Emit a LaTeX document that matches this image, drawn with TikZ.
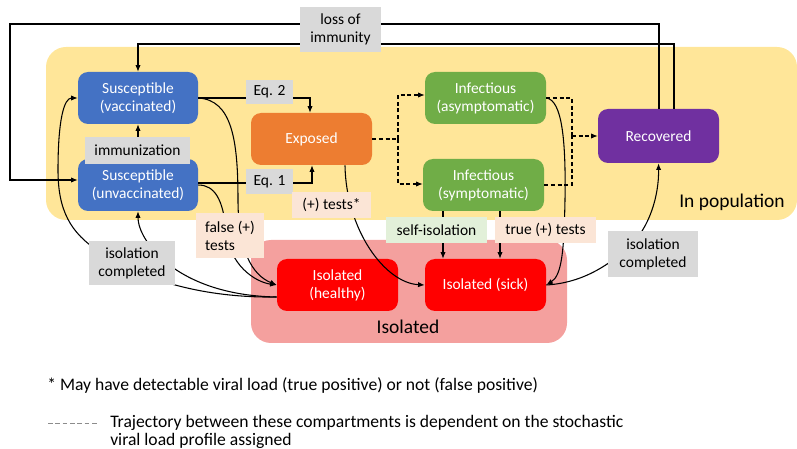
\documentclass[tikz,border=0pt]{standalone}
\usepackage{fontspec}
\setmainfont{Carlito}
\usetikzlibrary{arrows.meta}
\definecolor{popyellow}{HTML}{FFE699}
\definecolor{isopink}{HTML}{F4A09E}
\definecolor{sblue}{HTML}{4472C4}
\definecolor{eorange}{HTML}{ED7D31}
\definecolor{igreen}{HTML}{70AD47}
\definecolor{rpurple}{HTML}{7030A0}
\definecolor{ired}{HTML}{FF0000}
\definecolor{lgrey}{HTML}{D9D9D9}
\definecolor{lpeach}{HTML}{FBE5D6}
\definecolor{lgreen}{HTML}{E2F0D9}
\definecolor{legendgrey}{HTML}{8C8C8C}
\begin{document}
\begin{tikzpicture}[x=0.75pt,y=-0.75pt,
 comp/.style={rounded corners=7.5pt, text=white, align=center, inner sep=0pt,
   font=\fontsize{11.6}{13.5}\selectfont, minimum width=90.75pt, minimum height=39pt},
 lab/.style={inner sep=0pt, align=center, font=\fontsize{11.6}{13.5}\selectfont},
 conn/.style={line width=0.8pt, black, -{Latex[length=5pt,width=4pt]}},
 plain/.style={line width=0.8pt, black},
 dsh/.style={dash pattern=on 3pt off 2pt},
 region/.style={rounded corners=15pt, inner sep=0pt},
 reglab/.style={inner sep=0pt, font=\fontsize{14.6}{17}\selectfont},
 foot/.style={inner sep=0pt, anchor=base west, font=\fontsize{13.2}{14}\selectfont},
]
\useasboundingbox (0,0) rectangle (797,449);

% regions
\node[region, fill=popyellow, minimum width=751*0.75pt, minimum height=173*0.75pt] (pop) at (421.5,133.5) {};
\node[region, fill=isopink, minimum width=316*0.75pt, minimum height=103*0.75pt] (isor) at (409,291.5) {};
\node[reglab] (poplab) at (732,202) {In population};
\node[reglab] (isolab) at (408,327) {Isolated};

% compartments
\node[comp, fill=sblue, minimum width=90pt] (sv) at (138,98) {Susceptible\\(vaccinated)};
\node[comp, fill=sblue, minimum width=90pt] (su) at (138,185) {Susceptible\\(unvaccinated)};
\node[comp, fill=eorange] (exp) at (311.5,139) {Exposed};
\node[comp, fill=igreen] (ia) at (485.5,98) {Infectious\\(asymptomatic)};
\node[comp, fill=igreen] (is) at (483.5,185) {Infectious\\(symptomatic)};
\node[comp, fill=rpurple, minimum height=40.5pt] (rec) at (658.5,136) {Recovered};
\node[comp, fill=ired] (ih) at (337.5,285) {Isolated\\(healthy)};
\node[comp, fill=ired] (isk) at (485.5,285) {Isolated (sick)};

% loss of immunity
\draw[conn] (rec.north -| 659,0) |- (10,24) |- (su.west |- 0,180);
\draw[conn] (rec.north -| 674,0) |- (138,44) -- (sv.north);
% immunization
\draw[conn] (su.north) -- (sv.south);
% Eq 2 / Eq 1
\draw[conn] (sv.east) -| (exp.north -| 310,0);
\draw[conn] (su.east |- 0,183) -| (exp.south -| 312,0);
% dashed trajectories
\draw[plain, dsh] (exp.east) -- (398,139);
\draw[conn, dsh] (398,139) |- (ia.west |- 0,95);
\draw[conn, dsh] (398,139) |- (is.west |- 0,184);
\draw[plain, dsh] (ia.east) -| (572,136);
\draw[plain, dsh] (is.east) -| (572,136);
\draw[conn, dsh] (572,136) -- (rec.west);
% symptomatic to isolated sick
\draw[conn] (is.south -| 443,0) -- (isk.north -| 443,0);
\draw[conn] (is.south -| 500,0) -- (isk.north -| 500,0);
% asymptomatic to isolated sick
\draw[conn] (ia.east) .. controls (562,100) and (566,140) .. (565,200)
  .. controls (564,250) and (562,275) .. (isk.east);
% isolated sick to recovered
\draw[conn] (isk.east) .. controls (580,283) and (605,268) .. (628,248)
  .. controls (650,228) and (659,195) .. (rec.south);
% exposed to isolated sick
\draw[conn] (exp.south -| 345,0) .. controls (346,230) and (385,283) .. (isk.west);
% susceptible to isolated healthy
\draw[conn] (sv.east) .. controls (232,100) and (238,140) .. (238,200)
  .. controls (238,250) and (252,275) .. (ih.west);
\draw[conn] (su.east) .. controls (215,185) and (223,200) .. (226,230)
  .. controls (229,265) and (255,282) .. (ih.west);
% isolation completed (left)
\draw[conn] (ih.west |- 0,297) .. controls (220,296) and (182,278) .. (160,257)
  .. controls (145,242) and (138,228) .. (su.south);
\draw[conn] (ih.west |- 0,297) .. controls (215,298) and (150,285) .. (100,252)
  .. controls (70,233) and (58,210) .. (58,170)
  .. controls (58,120) and (64,98) .. (sv.west);

% labels
\node[lab, fill=lgrey, minimum width=60.75pt, minimum height=33.75pt] (loss) at (340.5,29.5) {loss of\\immunity};
\node[lab, fill=lgrey, minimum width=78.75pt, minimum height=20.25pt] (immu) at (137.5,150.5) {immunization};
\node[lab, fill=lgrey, minimum width=35.25pt, minimum height=18pt] (eqtwo) at (269.5,92) {Eq. 2};
\node[lab, fill=lgrey, minimum width=35.25pt, minimum height=18.75pt] (eqone) at (269.5,181.5) {Eq. 1};
\node[lab, fill=lpeach, minimum width=59.25pt, minimum height=19.5pt] (ptests) at (331.5,205) {(+) tests*};
\node[lab, fill=lgreen, minimum width=75.75pt, minimum height=19.5pt] (selfiso) at (436.5,230) {self-isolation};
\node[lab, fill=lpeach, minimum width=75.75pt, minimum height=19.5pt] (truet) at (545.5,230) {true (+) tests};
\node[lab, fill=lgrey, minimum width=64.5pt, minimum height=33pt] (isoleft) at (132,263) {isolation\\completed};
\node[lab, fill=lgrey, minimum width=67.5pt, minimum height=34.5pt] (isoright) at (653,254) {isolation\\completed};
\node[lab, fill=lpeach, minimum width=51pt, minimum height=33.75pt, align=left] (falset) at (230,235.5) {false (+)\\tests};

% footer
\node[foot] (note1) at (47,390) {* May have detectable viral load (true positive) or not (false positive)};
\draw[legendgrey, line width=0.6pt, dash pattern=on 3.5pt off 2pt] (48,423) -- (97,423);
\node[foot] (note2) at (110,427) {Trajectory between these compartments is dependent on the stochastic};
\node[foot] (note3) at (110,445) {viral load profile assigned};
\end{tikzpicture}
\end{document}
